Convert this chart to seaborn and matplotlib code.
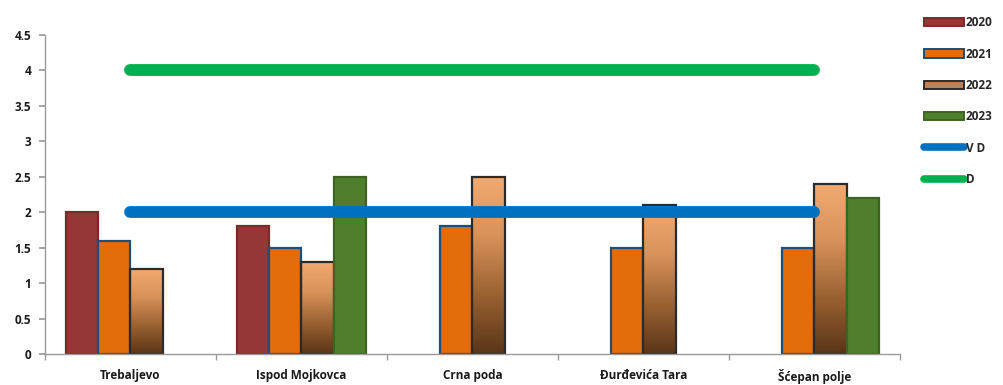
import numpy as np
import pandas as pd
import matplotlib
matplotlib.use("Agg")
import matplotlib.pyplot as plt
from matplotlib.patches import Patch
from matplotlib.lines import Line2D
from matplotlib.colors import LinearSegmentedColormap
import seaborn as sns

# Measurement sites and yearly values
sites = ["Trebaljevo", "Ispod Mojkovca", "Crna poda", "Đurđevića Tara", "Šćepan polje"]
years = ["2020", "2021", "2022", "2023"]
v2020 = [2.0, 1.8, np.nan, np.nan, np.nan]
v2021 = [1.6, 1.5, 1.8, 1.5, 1.5]
v2022 = [1.2, 1.3, 2.5, 2.1, 2.4]
v2023 = [np.nan, 2.5, np.nan, np.nan, 2.2]
vd_level = 2.0
d_level = 4.0
yticks = [0, 0.5, 1, 1.5, 2, 2.5, 3, 3.5, 4, 4.5]

df = pd.DataFrame({
    "site": sites * 4,
    "year": sum([[y] * len(sites) for y in years], []),
    "value": v2020 + v2021 + v2022 + v2023,
})

colors = {"2020": "#953735", "2021": "#E46C0A", "2022": "#C08050", "2023": "#4F7F2C"}
edges = {"2020": "#7a2a28", "2021": "#1F4E79", "2022": "#2b2b2b", "2023": "#3d6420"}

sns.set_theme(style="white")
plt.rcParams["font.family"] = ["Open Sans", "DejaVu Sans"]

fig = plt.figure(figsize=(10.04, 3.85), dpi=100)
ax = fig.add_axes([0.0448, 0.0805, 0.8516, 0.8285])

sns.barplot(data=df, x="site", y="value", hue="year", order=sites, hue_order=years,
            palette=colors, width=0.75, gap=0, ax=ax, legend=False, saturation=1)

grad = LinearSegmentedColormap.from_list("brown", ["#5a3518", "#9a6232", "#d8925a", "#f2aa70"])
for cont, yr in zip(ax.containers, years):
    for bar in cont:
        bar.set_edgecolor(edges[yr])
        bar.set_linewidth(1.6)
        if yr == "2022" and np.isfinite(bar.get_height()):
            x0, w, h = bar.get_x(), bar.get_width(), bar.get_height()
            bar.set_facecolor("none")
            img = ax.imshow(np.linspace(0, 1, 256).reshape(-1, 1), cmap=grad, origin="lower",
                            extent=[x0, x0 + w, 0, h], aspect="auto", zorder=bar.get_zorder() - 0.1)
            img.set_clip_path(bar)

# Reference levels spanning the first to the last site
xs = [0, len(sites) - 1]
ax.plot(xs, [vd_level] * 2, color="#0070C0", lw=8.5, solid_capstyle="round", zorder=5)
ax.plot(xs, [d_level] * 2, color="#00B050", lw=8.5, solid_capstyle="round", zorder=5)

ax.set_xlim(-0.5, len(sites) - 0.5)
ax.set_ylim(0, 4.5)
ax.set_yticks(yticks)
ax.set_yticklabels([f"{t:g}" for t in yticks])
ax.set_xlabel("")
ax.set_ylabel("")
for s in ["top", "right"]:
    ax.spines[s].set_visible(False)
for s in ["left", "bottom"]:
    ax.spines[s].set_color("#9a9a9a")
    ax.spines[s].set_linewidth(1)
ax.tick_params(axis="y", which="major", left=True, length=4, color="#9a9a9a",
               labelsize=8.5, pad=6)
ax.tick_params(axis="x", which="major", bottom=False, labelsize=8.5, pad=5)
ax.set_xticks(np.arange(-0.5, len(sites)), minor=True)
ax.tick_params(axis="x", which="minor", bottom=True, length=4, color="#9a9a9a")
for lab in ax.get_yticklabels() + ax.get_xticklabels():
    lab.set_fontweight("bold")
    lab.set_color("#1a1a1a")

handles = [Patch(facecolor=colors[y], edgecolor=edges[y], linewidth=1.4) for y in years]
handles += [Line2D([], [], color="#0070C0", lw=5.5, solid_capstyle="round"),
            Line2D([], [], color="#00B050", lw=5.5, solid_capstyle="round")]
labels = years + ["V D", "D"]
leg = fig.legend(handles, labels, loc="upper left", bbox_to_anchor=(0.91, 0.985),
                 frameon=False, handlelength=3.4, handleheight=0.7, handletextpad=0.1,
                 labelspacing=1.55, prop={"size": 8.5, "weight": "bold"})

fig.savefig("out.png", dpi=100)
